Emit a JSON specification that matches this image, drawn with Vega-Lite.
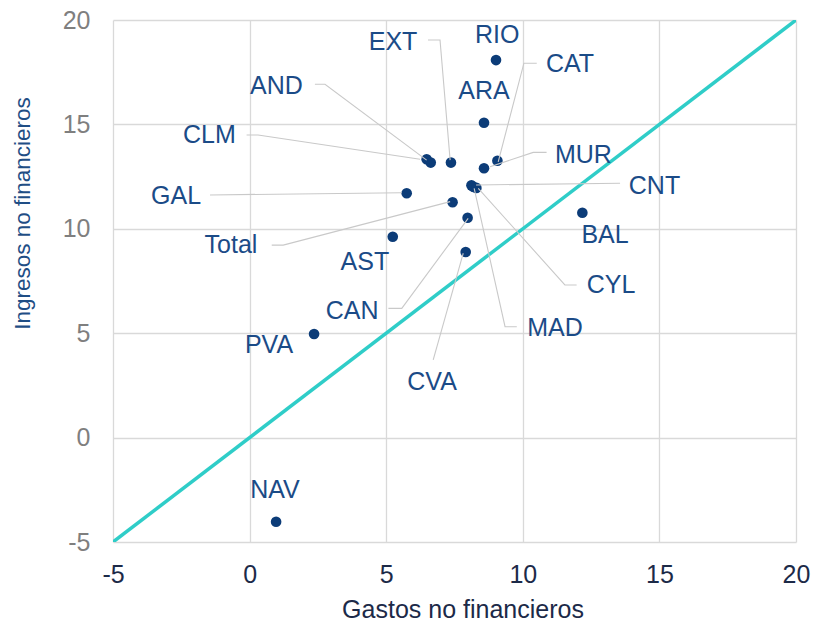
{
  "$schema": "https://vega.github.io/schema/vega-lite/v6.json",
  "width": 683,
  "height": 522,
  "autosize": "none",
  "padding": {"left": 113, "top": 20, "right": 17, "bottom": 79},
  "background": "white",
  "config": {
    "view": {"stroke": null},
    "font": "Liberation Sans",
    "axis": {
      "grid": true,
      "gridColor": "#d9d9d9",
      "gridWidth": 1.3,
      "domain": false,
      "ticks": false,
      "labelFlush": false,
      "labelFont": "Liberation Sans",
      "titleFont": "Liberation Sans",
      "labelFontSize": 25,
      "titleFontWeight": "normal"
    }
  },
  "datasets": {
    "points": [
      {"region": "RIO", "gastos": 9.02, "ingresos": 18.08, "lx": 9.06, "ly": 19.28},
      {"region": "ARA", "gastos": 8.58, "ingresos": 15.08, "lx": 8.58, "ly": 16.6},
      {"region": "AND", "gastos": 6.48, "ingresos": 13.33, "lx": 0.98, "ly": 16.84},
      {"region": "CLM", "gastos": 6.63, "ingresos": 13.17, "lx": -1.47, "ly": 14.49},
      {"region": "EXT", "gastos": 7.37, "ingresos": 13.17, "lx": 5.25, "ly": 18.95},
      {"region": "CAT", "gastos": 9.07, "ingresos": 13.26, "lx": 11.73, "ly": 17.87},
      {"region": "MUR", "gastos": 8.58, "ingresos": 12.9, "lx": 12.22, "ly": 13.53},
      {"region": "CNT", "gastos": 8.12, "ingresos": 12.08, "lx": 14.82, "ly": 12.07},
      {"region": "MAD", "gastos": 8.2, "ingresos": 12.0, "lx": 11.18, "ly": 5.25},
      {"region": "CYL", "gastos": 8.3, "ingresos": 11.96, "lx": 13.23, "ly": 7.31},
      {"region": "GAL", "gastos": 5.75, "ingresos": 11.7, "lx": -2.69, "ly": 11.55},
      {"region": "Total", "gastos": 7.43, "ingresos": 11.27, "lx": -0.68, "ly": 9.22},
      {"region": "CAN", "gastos": 7.98, "ingresos": 10.53, "lx": 3.75, "ly": 6.06},
      {"region": "AST", "gastos": 5.24, "ingresos": 9.62, "lx": 4.22, "ly": 8.41},
      {"region": "CVA", "gastos": 7.91, "ingresos": 8.89, "lx": 6.68, "ly": 2.66},
      {"region": "BAL", "gastos": 12.18, "ingresos": 10.77, "lx": 13.01, "ly": 9.7},
      {"region": "PVA", "gastos": 2.36, "ingresos": 4.96, "lx": 0.71, "ly": 4.43},
      {"region": "NAV", "gastos": 0.97, "ingresos": -4.03, "lx": 0.93, "ly": -2.51}
    ],
    "leaders": [
      {"region": "EXT", "seq": 1, "gastos": 6.53, "ingresos": 19.04},
      {"region": "EXT", "seq": 2, "gastos": 6.97, "ingresos": 19.04},
      {"region": "EXT", "seq": 3, "gastos": 7.34, "ingresos": 13.29},
      {"region": "CAT", "seq": 1, "gastos": 10.51, "ingresos": 17.93},
      {"region": "CAT", "seq": 2, "gastos": 10.04, "ingresos": 17.93},
      {"region": "CAT", "seq": 3, "gastos": 9.1, "ingresos": 13.21},
      {"region": "MUR", "seq": 1, "gastos": 10.87, "ingresos": 13.66},
      {"region": "MUR", "seq": 2, "gastos": 10.38, "ingresos": 13.66},
      {"region": "MUR", "seq": 3, "gastos": 8.8, "ingresos": 12.97},
      {"region": "AND", "seq": 1, "gastos": 2.39, "ingresos": 16.92},
      {"region": "AND", "seq": 2, "gastos": 2.76, "ingresos": 16.92},
      {"region": "AND", "seq": 3, "gastos": 6.48, "ingresos": 13.29},
      {"region": "CLM", "seq": 1, "gastos": -0.11, "ingresos": 14.49},
      {"region": "CLM", "seq": 2, "gastos": 0.31, "ingresos": 14.49},
      {"region": "CLM", "seq": 3, "gastos": 6.24, "ingresos": 13.33},
      {"region": "GAL", "seq": 1, "gastos": -1.45, "ingresos": 11.62},
      {"region": "GAL", "seq": 2, "gastos": 5.57, "ingresos": 11.73},
      {"region": "Total", "seq": 1, "gastos": 0.81, "ingresos": 9.22},
      {"region": "Total", "seq": 2, "gastos": 1.23, "ingresos": 9.22},
      {"region": "Total", "seq": 3, "gastos": 7.34, "ingresos": 11.3},
      {"region": "CNT", "seq": 1, "gastos": 13.56, "ingresos": 12.18},
      {"region": "CNT", "seq": 2, "gastos": 8.29, "ingresos": 12.1},
      {"region": "CYL", "seq": 1, "gastos": 11.97, "ingresos": 7.31},
      {"region": "CYL", "seq": 2, "gastos": 11.54, "ingresos": 7.31},
      {"region": "CYL", "seq": 3, "gastos": 8.37, "ingresos": 11.94},
      {"region": "MAD", "seq": 1, "gastos": 9.78, "ingresos": 5.31},
      {"region": "MAD", "seq": 2, "gastos": 9.35, "ingresos": 5.31},
      {"region": "MAD", "seq": 3, "gastos": 8.22, "ingresos": 11.94},
      {"region": "CAN", "seq": 1, "gastos": 5.08, "ingresos": 6.19},
      {"region": "CAN", "seq": 2, "gastos": 5.57, "ingresos": 6.19},
      {"region": "CAN", "seq": 3, "gastos": 8.0, "ingresos": 10.5},
      {"region": "CVA", "seq": 1, "gastos": 6.72, "ingresos": 3.72},
      {"region": "CVA", "seq": 2, "gastos": 7.82, "ingresos": 8.83}
    ],
    "diag": [
      {"gastos": -5, "ingresos": -5},
      {"gastos": 20, "ingresos": 20}
    ]
  },
  "layer": [
    {
      "data": {"name": "diag"},
      "mark": {"type": "line", "color": "#2fcdc8", "strokeWidth": 3.5, "clip": true},
      "encoding": {
        "x": {
          "field": "gastos", "type": "quantitative",
          "scale": {"domain": [-5, 20], "nice": false},
          "axis": {
            "values": [-5, 0, 5, 10, 15, 20],
            "labelExpr": "'' + datum.value",
            "title": "Gastos no financieros",
            "labelColor": "#1c2a48",
            "labelPadding": 20,
            "titleColor": "#1c2a48",
            "titleFontSize": 25,
            "titleX": 349.5,
            "titleY": 75,
            "titleBaseline": "alphabetic",
            "titleAlign": "center"
          }
        },
        "y": {
          "field": "ingresos", "type": "quantitative",
          "scale": {"domain": [-5, 20], "nice": false},
          "axis": {
            "values": [-5, 0, 5, 10, 15, 20],
            "labelExpr": "'' + datum.value",
            "title": "Ingresos no financieros",
            "labelColor": "#7f7f7f",
            "labelPadding": 23,
            "titleColor": "#1f4e85",
            "titleFontSize": 22.5,
            "titleAngle": 270,
            "titleX": -84,
            "titleY": 193,
            "titleBaseline": "alphabetic",
            "titleAlign": "center"
          }
        }
      }
    },
    {
      "data": {"name": "points"},
      "mark": {"type": "circle", "size": 113, "color": "#0c3c78", "opacity": 1},
      "encoding": {
        "x": {"field": "gastos", "type": "quantitative"},
        "y": {"field": "ingresos", "type": "quantitative"}
      }
    },
    {
      "data": {"name": "leaders"},
      "mark": {"type": "line", "color": "#c9c9c9", "strokeWidth": 1.1},
      "encoding": {
        "x": {"field": "gastos", "type": "quantitative"},
        "y": {"field": "ingresos", "type": "quantitative"},
        "detail": {"field": "region"},
        "order": {"field": "seq", "type": "quantitative"}
      }
    },
    {
      "data": {"name": "points"},
      "mark": {"type": "text", "fontSize": 25, "color": "#1b4b87", "align": "center", "baseline": "middle", "font": "Liberation Sans"},
      "encoding": {
        "x": {"field": "lx", "type": "quantitative"},
        "y": {"field": "ly", "type": "quantitative"},
        "text": {"field": "region"}
      }
    }
  ]
}
